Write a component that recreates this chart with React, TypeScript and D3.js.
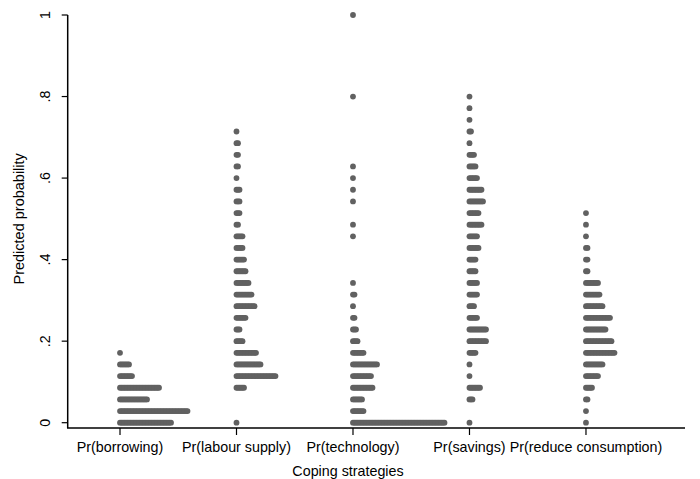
import * as d3 from 'd3'

// Stata-style dotplot: y values are binned into 35 steps of 1/35, counts per bin
const CATEGORIES = [
  'Pr(borrowing)',
  'Pr(labour supply)',
  'Pr(technology)',
  'Pr(savings)',
  'Pr(reduce consumption)',
]
const NBINS = 35

// counts per bin, index k -> value k/35
const borrowing = [35, 46, 19, 27, 9, 7, 1]
const labourSupply = [1, 0, 0, 6, 27, 17, 14, 5, 3, 7, 13, 11, 9, 7, 6, 5, 5, 2, 3, 3, 3, 1, 2, 2, 2, 1]
const technology = [
  62, 8, 7, 14, 13, 17, 8, 4, 3, 2, 1, 2, 1, 0, 0, 0, 1, 1, 0, 1, 1, 1, 1, 0, 0, 0, 0, 0, 1, 0, 0, 0, 0, 0, 0, 1,
]
const savings = [1, 0, 3, 8, 1, 1, 5, 12, 12, 6, 4, 6, 6, 5, 5, 7, 6, 9, 7, 10, 9, 6, 5, 4, 1, 2, 1, 1, 1]
const reduceConsumption = [1, 1, 2, 5, 9, 12, 20, 18, 14, 17, 12, 10, 9, 2, 2, 2, 1, 1, 1]

const SERIES = [borrowing, labourSupply, technology, savings, reduceConsumption]

const Y_TICKS = [0, 0.2, 0.4, 0.6, 0.8, 1]
const yTickLabel = (v: number) => (v === 0 ? '0' : v === 1 ? '1' : String(v).replace(/^0/, ''))

const W = 700
const H = 479
const FONT = 'Liberation Sans, Arial, Helvetica, sans-serif'
const DOT = '#616161'
const DOT_R = 2.9
const DOT_GAP = 1.5

export default function App() {
  const x = d3.scaleLinear().domain([0.551, 5.85]).range([67.7, 685])
  const y = d3.scaleLinear().domain([0, 1]).range([422.7, 15])
  const axisY = 428

  const dots: { cx: number; cy: number; key: string }[] = []
  SERIES.forEach((counts, ci) => {
    counts.forEach((n, k) => {
      for (let i = 0; i < n; i++) {
        dots.push({
          cx: x(ci + 1) + i * DOT_GAP,
          cy: y(k / NBINS),
          key: `${ci}-${k}-${i}`,
        })
      }
    })
  })

  return (
    <svg
      width={W}
      height={H}
      style={{ position: 'absolute', left: 0, top: 0, background: '#fff' }}
      fontFamily={FONT}
    >
      {/* dots */}
      <g fill={DOT}>
        {dots.map((d) => (
          <circle key={d.key} cx={d.cx} cy={d.cy} r={DOT_R} />
        ))}
      </g>

      {/* y axis */}
      <line x1={x.range()[0]} x2={x.range()[0]} y1={y(1)} y2={axisY} stroke="#000" strokeWidth={1.5} />
      {Y_TICKS.map((t) => (
        <g key={t}>
          <line x1={x.range()[0] - 6} x2={x.range()[0]} y1={y(t)} y2={y(t)} stroke="#000" strokeWidth={1.2} />
          <text
            transform={`translate(50,${y(t)}) rotate(-90)`}
            textAnchor="middle"
            fontSize={14.3}
            fill="#000"
          >
            {yTickLabel(t)}
          </text>
        </g>
      ))}
      <text transform={`translate(24,${(y(0) + y(1)) / 2}) rotate(-90)`} textAnchor="middle" fontSize={14.5}>
        Predicted probability
      </text>

      {/* x axis */}
      <line x1={x.range()[0] - 0.7} x2={x.range()[1]} y1={axisY} y2={axisY} stroke="#000" strokeWidth={1.5} />
      {CATEGORIES.map((c, i) => (
        <g key={c}>
          <line x1={x(i + 1)} x2={x(i + 1)} y1={axisY} y2={axisY + 7} stroke="#000" strokeWidth={1.2} />
          <text x={x(i + 1)} y={451.5} textAnchor="middle" fontSize={14.3}>
            {c}
          </text>
        </g>
      ))}
      <text x={348} y={476} textAnchor="middle" fontSize={14.3}>
        Coping strategies
      </text>
    </svg>
  )
}
